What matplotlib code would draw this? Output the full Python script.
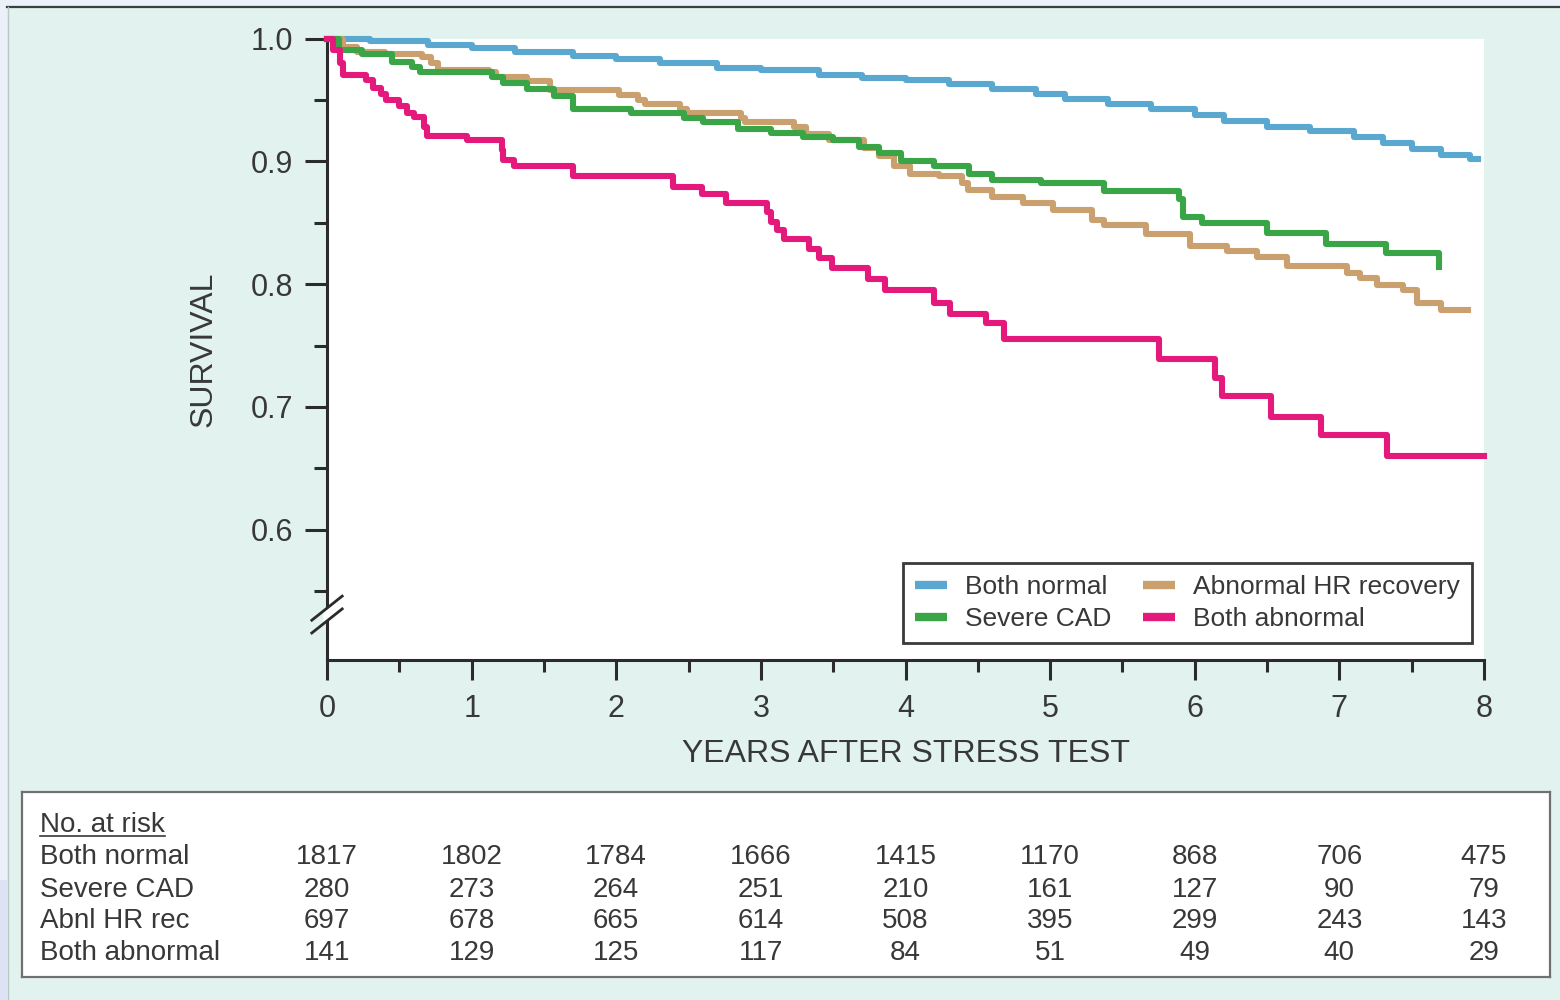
import numpy as np
import matplotlib
matplotlib.use("Agg")
import matplotlib.pyplot as plt
from matplotlib.lines import Line2D
from matplotlib.patches import Rectangle, Polygon
from matplotlib.transforms import blended_transform_factory

plt.rcParams['font.family'] = ['Liberation Sans', 'DejaVu Sans']

# Kaplan-Meier step curves: event times (years) and survival after each step
normal_t = [0, 0.3, 0.7, 1.0, 1.3, 1.7, 2.0, 2.3, 2.7, 3.0, 3.4, 3.7, 4.0, 4.3,
            4.6, 4.9, 5.1, 5.4, 5.7, 6.0, 6.2, 6.5, 6.8, 7.1, 7.3, 7.5, 7.7, 7.9]
normal_s = [1.0, 0.998, 0.995, 0.992, 0.989, 0.986, 0.983, 0.980, 0.976, 0.974,
            0.970, 0.968, 0.966, 0.963, 0.959, 0.955, 0.951, 0.947, 0.943, 0.938,
            0.933, 0.928, 0.925, 0.920, 0.915, 0.910, 0.905, 0.902]
normal_end = 7.96

cad_t = [0, 0.08, 0.24, 0.45, 0.59, 0.64, 1.14, 1.22, 1.38, 1.57, 1.70, 2.10,
         2.47, 2.60, 2.84, 3.07, 3.29, 3.50, 3.68, 3.82, 3.97, 4.20, 4.44, 4.60,
         4.94, 5.37, 5.89, 5.92, 6.05, 6.50, 6.91, 7.32, 7.69]
cad_s = [1.0, 0.991, 0.987, 0.981, 0.977, 0.973, 0.969, 0.964, 0.959, 0.953,
         0.943, 0.939, 0.935, 0.932, 0.926, 0.923, 0.920, 0.917, 0.912, 0.907,
         0.900, 0.896, 0.890, 0.885, 0.882, 0.876, 0.869, 0.855, 0.850, 0.842,
         0.833, 0.825, 0.814]
cad_end = 7.69

hrr_t = [0, 0.11, 0.21, 0.40, 0.66, 0.72, 0.77, 1.12, 1.17, 1.38, 1.54, 2.02,
         2.15, 2.20, 2.44, 2.49, 2.86, 2.89, 3.23, 3.31, 3.47, 3.71, 3.82, 3.92,
         4.03, 4.23, 4.39, 4.43, 4.60, 4.81, 5.02, 5.29, 5.37, 5.66, 5.97, 6.22,
         6.43, 6.64, 7.05, 7.14, 7.26, 7.44, 7.54, 7.70]
hrr_s = [1.0, 0.993, 0.989, 0.987, 0.985, 0.980, 0.974, 0.973, 0.969, 0.965,
         0.958, 0.954, 0.950, 0.947, 0.943, 0.939, 0.935, 0.932, 0.928, 0.922,
         0.917, 0.911, 0.904, 0.896, 0.890, 0.888, 0.882, 0.877, 0.871, 0.866,
         0.860, 0.852, 0.848, 0.841, 0.831, 0.827, 0.822, 0.815, 0.809, 0.805,
         0.799, 0.795, 0.785, 0.779]
hrr_end = 7.89

both_t = [0, 0.04, 0.09, 0.11, 0.27, 0.32, 0.37, 0.41, 0.50, 0.55, 0.60, 0.67,
          0.69, 0.97, 1.21, 1.22, 1.29, 1.70, 2.39, 2.59, 2.76, 3.04, 3.07, 3.11,
          3.16, 3.33, 3.40, 3.49, 3.74, 3.86, 4.20, 4.31, 4.56, 4.68, 5.75, 6.14,
          6.19, 6.53, 6.87, 7.33]
both_s = [1.0, 0.991, 0.980, 0.970, 0.966, 0.960, 0.955, 0.950, 0.945, 0.939,
          0.936, 0.928, 0.921, 0.917, 0.909, 0.901, 0.896, 0.888, 0.879, 0.873,
          0.866, 0.859, 0.851, 0.844, 0.837, 0.829, 0.821, 0.813, 0.804, 0.795,
          0.785, 0.776, 0.768, 0.755, 0.739, 0.724, 0.709, 0.692, 0.677, 0.660]
both_end = 8.0

# number at risk table
risk_years = [0, 1, 2, 3, 4, 5, 6, 7, 8]
risk_labels = ['Both normal', 'Severe CAD', 'Abnl HR rec', 'Both abnormal']
risk_normal = [1817, 1802, 1784, 1666, 1415, 1170, 868, 706, 475]
risk_cad = [280, 273, 264, 251, 210, 161, 127, 90, 79]
risk_hrr = [697, 678, 665, 614, 508, 395, 299, 243, 143]
risk_both = [141, 129, 125, 117, 84, 51, 49, 40, 29]

c_normal = '#5aa7d0'
c_cad = '#3aa547'
c_hrr = '#c9a06e'
c_both = '#e3197c'
ink = '#383838'
W, H = 1560, 1000

fig = plt.figure(figsize=(15.6, 10), dpi=100)
fig.patch.set_facecolor('#ecf0f8')
fig.add_artist(Rectangle((7 / W, 0), 1 - 7 / W, 1 - 7 / H, transform=fig.transFigure,
                         facecolor='#e2f2ef', edgecolor='none', zorder=0))
fig.add_artist(Rectangle((0, 0), 7 / W, 120 / H, transform=fig.transFigure,
                         facecolor='#dde2f5', edgecolor='none', zorder=0))
fig.add_artist(Line2D([7 / W, 1], [1 - 6.5 / H] * 2, transform=fig.transFigure,
                      color='#35403f', lw=1.6, zorder=1))
fig.add_artist(Line2D([7.5 / W] * 2, [0, 1 - 6.5 / H], transform=fig.transFigure,
                      color='#b9c8c6', lw=1.0, zorder=1))

ax = fig.add_axes([327 / W, 0.34, 1157 / W, 0.6215])
ax.set_facecolor('white')
ax.set_xlim(0, 8)
ax.set_ylim(0.494, 1.0)

curves = [
    (normal_t, normal_s, normal_end, c_normal, 'Both normal'),
    (hrr_t, hrr_s, hrr_end, c_hrr, 'Abnormal HR recovery'),
    (cad_t, cad_s, cad_end, c_cad, 'Severe CAD'),
    (both_t, both_s, both_end, c_both, 'Both abnormal'),
]
for t, s, end, col, lab in curves:
    ax.step(np.append(t, end), np.append(s, s[-1]), where='post', color=col,
            lw=4.4, clip_on=False, zorder=3)

for side in ('top', 'right'):
    ax.spines[side].set_visible(False)
for side in ('left', 'bottom'):
    ax.spines[side].set_color('#2b2b2b')
    ax.spines[side].set_linewidth(2.2)

ax.set_xticks(range(0, 9))
ax.set_xticks(np.arange(0.5, 8, 1.0), minor=True)
ax.set_yticks([0.6, 0.7, 0.8, 0.9, 1.0])
ax.set_yticklabels(['0.6', '0.7', '0.8', '0.9', '1.0'])
ax.set_yticks([0.55, 0.65, 0.75, 0.85, 0.95], minor=True)
ax.tick_params(axis='x', which='major', direction='out', length=14.5, width=2.2,
               pad=10, labelsize=22, colors='#2b2b2b', labelcolor=ink)
ax.tick_params(axis='x', which='minor', direction='out', length=8.5, width=2.2,
               colors='#2b2b2b')
ax.tick_params(axis='y', which='major', direction='out', length=15.5, width=2.2,
               pad=9, labelsize=22, colors='#2b2b2b', labelcolor=ink)
ax.tick_params(axis='y', which='minor', direction='out', length=9.5, width=2.2,
               colors='#2b2b2b')

ax.set_xlabel('YEARS AFTER STRESS TEST', fontsize=23, color=ink, va='top')
ax.xaxis.set_label_coords(0.5, -0.127)
ax.set_ylabel('SURVIVAL', fontsize=23, color=ink)
ax.yaxis.set_label_coords(-0.094, 0.5)

# axis break marks on the y axis
brk_y, gap = 0.531, 0.0052
dx, dy = 0.105, 0.0098
slope = dy / dx
w = 0.025
ax.add_patch(Polygon([(-w, brk_y - gap - slope * w), (w, brk_y - gap + slope * w),
                      (w, brk_y + gap + slope * w), (-w, brk_y + gap - slope * w)],
                     closed=True, facecolor='white', edgecolor='none',
                     clip_on=False, zorder=4))
for off in (-gap, gap):
    ax.plot([-dx, dx], [brk_y + off - dy, brk_y + off + dy], color='#2b2b2b',
            lw=2.0, clip_on=False, zorder=5)

handles = [Line2D([], [], color=c, lw=6, solid_capstyle='butt')
           for c in (c_normal, c_cad, c_hrr, c_both)]
names = ['Both normal', 'Severe CAD', 'Abnormal HR recovery', 'Both abnormal']
leg = ax.legend(handles, names, ncol=2, loc='upper left',
                bbox_to_anchor=(903 / W, 1 - 563 / H), bbox_transform=fig.transFigure,
                borderaxespad=0, fontsize=19, handlelength=1.2, handletextpad=0.7,
                columnspacing=1.2, labelspacing=0.3, borderpad=0.45,
                fancybox=False, framealpha=1, facecolor='white', edgecolor='#3a3a3a')
leg.get_frame().set_linewidth(2.0)
for txt in leg.get_texts():
    txt.set_color(ink)

# number at risk box
tab = fig.add_axes([22 / W, 23 / H, 1528 / W, 185.3 / H])
tab.set_facecolor('white')
tab.set_xticks([])
tab.set_yticks([])
for sp in tab.spines.values():
    sp.set_color('#707070')
    sp.set_linewidth(1.6)

col_tr = blended_transform_factory(ax.transData, tab.transAxes)
lab_tr = blended_transform_factory(fig.transFigure, tab.transAxes)
row_y = [0.610, 0.434, 0.264, 0.092]

head = fig.text(40 / W, 0.784, 'No. at risk', transform=lab_tr, fontsize=20,
                color=ink, va='baseline', ha='left')
for lab, y, vals in zip(risk_labels, row_y, [risk_normal, risk_cad, risk_hrr, risk_both]):
    fig.text(40 / W, y, lab, transform=lab_tr, fontsize=20, color=ink,
             va='baseline', ha='left')
    for yr, v in zip(risk_years, vals):
        fig.text(yr, y, str(v), transform=col_tr, fontsize=20, color=ink,
                 va='baseline', ha='center')

# underline the table heading
fig.canvas.draw()
bb = head.get_window_extent().transformed(fig.transFigure.inverted())
uy = 1 - 835.5 / H
fig.add_artist(Line2D([bb.x0, bb.x1], [uy, uy], transform=fig.transFigure,
                      color=ink, lw=1.2))

fig.savefig('out.png', dpi=100, facecolor=fig.get_facecolor())
